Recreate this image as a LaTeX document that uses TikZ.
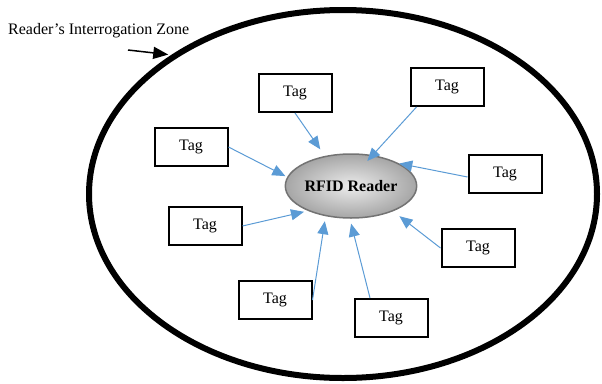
\documentclass[tikz,border=0pt]{standalone}
\usepackage{fontspec}
\setmainfont{Liberation Serif}
\usetikzlibrary{shapes.geometric,arrows.meta}
\definecolor{tagblue}{HTML}{5B9BD5}

\begin{document}
\begin{tikzpicture}[x=1pt, y=-1pt,
  every node/.style = {font=\fontsize{16}{19}\selectfont},
  tag/.style = {draw, line width=2pt, fill=white, minimum width=73pt, minimum height=38pt, inner sep=0pt},
  link/.style = {tagblue, line width=1pt, -{Triangle[length=13pt,width=11pt]}}
  ]
  \useasboundingbox (0,0) rectangle (602,383);

  % interrogation zone and reader
  \node[draw, ellipse, line width=6pt, minimum width=508pt, minimum height=368pt, inner sep=0pt] (zone) at (343,194) {};
  \node[ellipse, draw=black!55, line width=1.5pt, shading=radial, inner color=gray!15, outer color=gray!70,
        minimum width=128pt, minimum height=64pt, inner sep=0pt, font=\fontsize{16}{19}\selectfont\bfseries] (reader) at (351,186) {RFID Reader};

  \node[anchor=west, inner sep=0pt] (zonelabel) at (8,31) {Reader’s Interrogation Zone};
  \coordinate (pointer) at (128,50);
  \draw[line width=1.5pt, -{Triangle[length=15pt,width=12pt]}, shorten >=3pt] (pointer) -- (zone.141);

  % tags around the reader
  \node[tag] (tag1) at (295,93) {Tag};
  \node[tag] (tag2) at (191,147) {Tag};
  \node[tag] (tag3) at (447,87) {Tag};
  \node[tag] (tag4) at (505,174) {Tag};
  \node[tag] (tag5) at (478,248) {Tag};
  \node[tag] (tag6) at (205,226) {Tag};
  \node[tag] (tag7) at (275,300) {Tag};
  \node[tag] (tag8) at (391,318) {Tag};

  \draw[link, shorten >=8pt] (tag1.south) -- (reader.131);
  \draw[link, shorten >=2pt] (tag2.east) -- (reader.172);
  \draw[link, shorten >=-8pt] ([xshift=7pt]tag3.south west) -- (reader.55);
  \draw[link] ([yshift=-3pt]tag4.west) -- (reader.25);
  \draw[link, shorten >=8pt] (tag5.west) -- (reader.-31);
  \draw[link, shorten >=4pt] (tag6.east) -- (reader.210);
  \draw[link, shorten >=5pt] (tag7.east) -- (reader.230);
  \draw[link, shorten >=5pt] ([xshift=-21pt]tag8.north) -- (reader.268);
\end{tikzpicture}
\end{document}
